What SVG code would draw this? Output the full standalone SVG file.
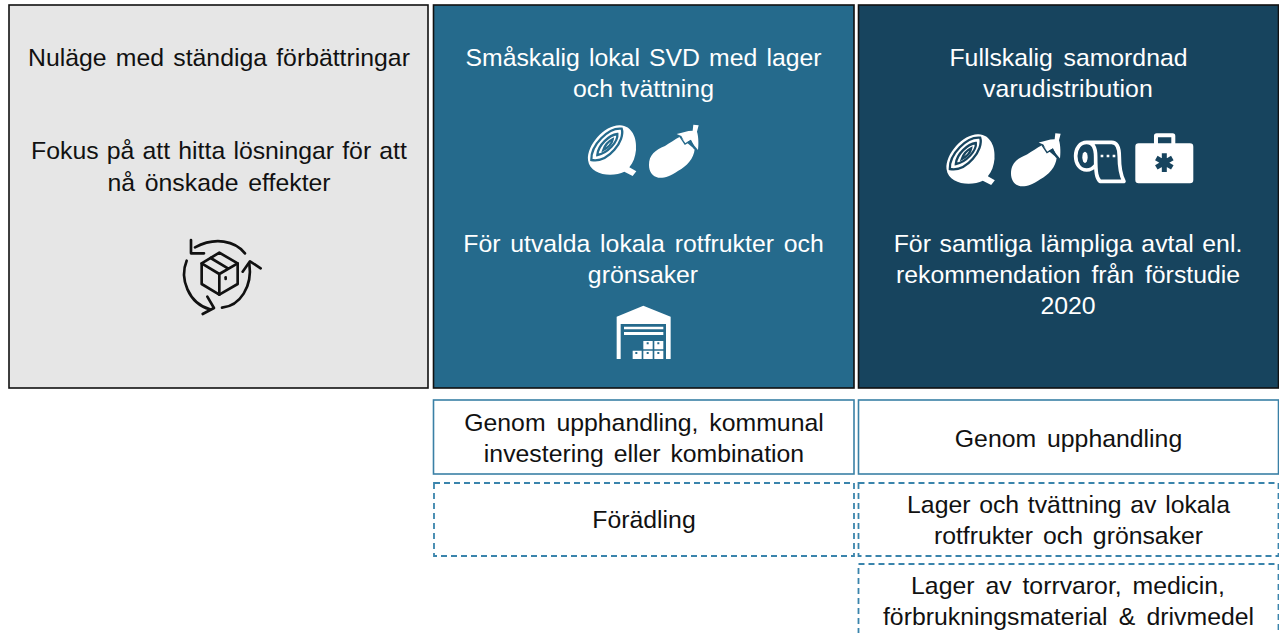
<svg xmlns="http://www.w3.org/2000/svg" width="1279" height="633" viewBox="0 0 1279 633">
<style>
text{font-family:"Liberation Sans",Arial,sans-serif;font-size:24.8px;text-anchor:middle;fill:#111}
.w text{fill:#fff}
.top{stroke:#111;stroke-width:1.6}
.s{fill:#fff;stroke:#3a80a6;stroke-width:1.6}
.d{fill:#fff;stroke:#3a84ac;stroke-width:1.8;stroke-dasharray:6 4}
.ico{fill:none;stroke:#111;stroke-width:8;stroke-linecap:round;stroke-linejoin:round}
</style>
<defs>
<g id="onion">
<path fill="#fff" stroke="none" d="M54 150C50 105 105 44 150 46C186 47 202 85 198 120C196 140 190 158 178 172L199 184L188 198L163 185C130 202 60 198 54 150Z"/>
<g fill="none" stroke-width="7">
<path d="M64 150C62 105 115 52 155 56C167 90 115 160 64 150Z"/>
<path d="M82 135C84 105 118 75 142 72C145 95 112 130 82 135Z"/>
<path d="M100 120C105 105 118 93 128 88C126 100 113 113 100 120Z"/>
</g>
</g>
<g id="eggplant">
<path fill="#fff" stroke="none" d="M237 165C237 135 255 120 285 108C300 98 315 88 330 80L374 118C372 145 350 170 325 182C300 200 280 205 265 203C248 200 237 185 237 165Z"/>
<path fill="#fff" stroke="none" d="M320 72C338 68 350 62 368 62L370 44L386 46L381 65C386 80 386 105 384 120L372 106L362 90L346 100L334 78Z"/>
<path fill="none" stroke-width="4" d="M330 80L345 102L362 92L374 118"/>
</g>
</defs>
<g id="connectors"/>
<g id="n1">
<rect class="top" x="9" y="5" width="419" height="383" fill="#e6e6e6"/>
<text x="219" y="66" word-spacing="2.300">Nuläge med ständiga förbättringar</text>
<text x="219" y="159" word-spacing="1.300">Fokus på att hitta lösningar för att</text>
<text x="219" y="191" word-spacing="2.900">nå önskade effekter</text>
<g transform="translate(160 220) scale(.3333)" class="ico">
<path d="M255 100C225 62 165 50 105 82"/><path d="M93 60L93 100L132 100"/>
<path d="M80 122C58 175 85 250 150 268"/><path d="M142 230L162 264L128 282"/>
<path d="M186 263C240 258 278 200 268 130"/><path d="M248 155L270 124L302 145"/>
<path d="M178 98L233 130V192L178 224L125 192V130Z"/><path d="M125 130L178 162L233 130M178 162V224M152 114L205 146"/>
<path d="M197 172L197 177"/>
</g>
</g>
<g id="n2">
<rect class="top" x="433.500" y="5" width="420.500" height="383" fill="#256a8c"/>
<g class="w">
<text x="643.500" y="66" word-spacing="2.200">Småskalig lokal SVD med lager</text>
<text x="643.500" y="97" word-spacing=".3">och tvättning</text>
<text x="643.500" y="252" word-spacing="2.950">För utvalda lokala rotfrukter och</text>
<text x="643" y="283">grönsaker</text>
</g>
<g transform="translate(570 110) scale(.3333)" stroke="#256a8c"><use href="#onion"/><use href="#eggplant"/></g>
<g transform="translate(600 295) scale(.3333)" fill="#fff">
<path d="M50 65L130 32L212 65V192H198V87H62V192H50Z"/>
<path d="M72 95H190V103H72ZM72 111H190V120H72Z"/>
<path d="M98 167H125V192H98ZM130 167H158V192H130ZM163 167H190V192H163ZM130 138H158V163H130ZM163 138H190V163H163Z"/>
<path fill="#256a8c" d="M106 171h6v6h-6zM140 171h6v6h-6zM172 171h6v6h-6zM140 142h6v6h-6zM172 142h6v6h-6z"/>
</g>
</g>
<g id="n3">
<rect class="top" x="858.500" y="5" width="420" height="383" fill="#17445e"/>
<g class="w">
<text x="1068.500" y="66" word-spacing="3.800">Fullskalig samordnad</text>
<text x="1068" y="97" letter-spacing=".1">varudistribution</text>
<text x="1068" y="252" word-spacing="1.700">För samtliga lämpliga avtal enl.</text>
<text x="1068" y="283" word-spacing="3.900">rekommendation från förstudie</text>
<text x="1068" y="314">2020</text>
</g>
<g stroke="#17445e">
<g transform="translate(928.500 119) scale(.3333)"><use href="#onion"/></g>
<g transform="translate(932 118.500) scale(.3333)"><use href="#eggplant"/></g>
</g>
<g transform="translate(930 120) scale(.3333)">
<path fill="none" stroke="#fff" stroke-width="11" stroke-linejoin="round" d="M470 67H545C565 67 568 90 568 110C568 140 572 165 582 184H510C500 175 497 160 497 110C497 85 490 67 470 67C450 67 437 85 437 108C437 132 450 150 470 150C480 150 490 145 497 135"/>
<ellipse cx="465" cy="112" rx="8" ry="17" fill="#fff"/>
<path fill="#fff" d="M512 104h8v8h-8zM530 104h8v8h-8zM548 104h8v8h-8z"/>
<path fill="#fff" fill-rule="evenodd" d="M672 70V48Q672 40 680 40H728Q736 40 736 48V70H780Q790 70 790 80V180Q790 190 780 190H626Q616 190 616 180V80Q616 70 626 70ZM684 70H724V52H684Z"/>
<path stroke="#17445e" stroke-width="15" d="M703 100V156M679 114L727 142M679 142L727 114"/>
</g>
</g>
<g id="n4"><rect class="s" x="433.500" y="400" width="420.500" height="74"/>
<text x="644" y="431" word-spacing="4">Genom upphandling, kommunal</text><text x="644" y="462" word-spacing="3">investering eller kombination</text></g>
<g id="n5"><rect class="s" x="858.500" y="400" width="420" height="74"/>
<text x="1068.500" y="447" word-spacing="4">Genom upphandling</text></g>
<g id="n6"><rect class="d" x="434" y="483" width="420" height="73"/>
<text x="644" y="528">Förädling</text></g>
<g id="n7"><rect class="d" x="858.500" y="483" width="420" height="73"/>
<text x="1068.500" y="513" word-spacing="1.800">Lager och tvättning av lokala</text><text x="1068.500" y="544" word-spacing="3">rotfrukter och grönsaker</text></g>
<g id="n8"><rect class="d" x="858.500" y="564" width="420" height="80"/>
<text x="1068" y="594" word-spacing="4">Lager av torrvaror, medicin,</text><text x="1068.500" y="625" word-spacing="4.300">förbrukningsmaterial &amp; drivmedel</text></g>
</svg>
